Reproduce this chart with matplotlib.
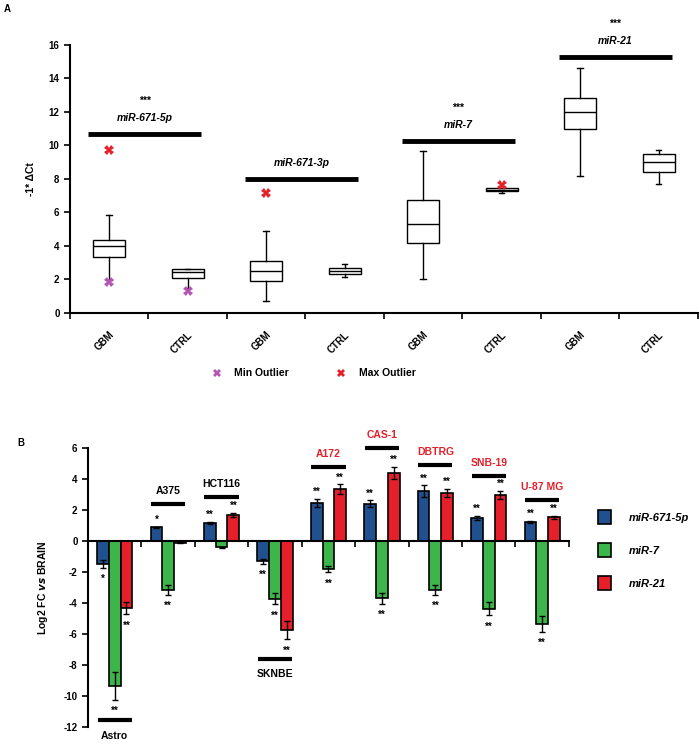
import matplotlib
matplotlib.use("Agg")
import matplotlib.pyplot as plt
import numpy as np
from matplotlib.lines import Line2D
from matplotlib.patches import Patch

plt.rcParams['font.family'] = ['Liberation Sans', 'DejaVu Sans']
plt.rcParams['font.weight'] = 'bold'

# ---------------- Panel A data ----------------
a_labels = ["GBM", "CTRL", "GBM", "CTRL", "GBM", "CTRL", "GBM", "CTRL"]
a_whishi = [5.85, 2.61, 4.92, 2.91, 9.66, 7.43, 14.64, 9.74]
a_q3 = [4.36, 2.61, 3.13, 2.71, 6.73, 7.43, 12.81, 9.48]
a_med = [4.02, 2.45, 2.53, 2.53, 5.32, 7.35, 12.01, 9.00]
a_q1 = [3.32, 2.11, 1.89, 2.35, 4.16, 7.27, 10.96, 8.39]
a_whislo = [1.97, 1.49, 0.70, 2.17, 2.01, 7.17, 8.17, 7.71]
a_min_out = [1.87, 1.31, None, None, None, None, None, None]
a_max_out = [9.70, None, 7.17, None, None, 7.63, None, None]

mirna_a = ["miR-671-5p", "miR-671-3p", "miR-7", "miR-21"]
sig_a_y = [10.7, 8.0, 10.26, 15.3]
stars_a = ["***", "", "***", "***"]
a_yticks = [0, 2, 4, 6, 8, 10, 12, 14, 16]

# ---------------- Panel B data ----------------
cells = ["Astro", "A375", "HCT116", "SKNBE", "A172", "CAS-1", "DBTRG", "SNB-19", "U-87 MG"]
cell_colors = ["black", "black", "black", "black", "#e3202a", "#e3202a", "#e3202a", "#e3202a", "#e3202a"]
series_names = ["miR-671-5p", "miR-7", "miR-21"]
series_colors = ["#21508f", "#3cb54a", "#e5202b"]

mir671_5p = [-1.47, 0.88, 1.16, -1.31, 2.48, 2.41, 3.21, 1.49, 1.23]
mir7 = [-9.33, -3.13, -0.39, -3.73, -1.79, -3.69, -3.15, -4.37, -5.34]
mir21 = [-4.31, -0.10, 1.70, -5.73, 3.36, 4.40, 3.12, 2.97, 1.53]

err671 = [0.25, 0.05, 0.06, 0.15, 0.25, 0.22, 0.38, 0.12, 0.07]
err7 = [0.90, 0.32, 0.03, 0.35, 0.20, 0.35, 0.30, 0.42, 0.50]
err21 = [0.38, 0.02, 0.13, 0.60, 0.30, 0.40, 0.25, 0.25, 0.12]

stars671 = ["*", "*", "**", "**", "**", "**", "**", "**", "**"]
stars7 = ["**", "**", "", "**", "**", "**", "**", "**", "**"]
stars21 = ["**", "", "**", "**", "**", "**", "**", "**", "**"]

sig_b_y = [-11.55, 2.41, 2.84, -7.6, 4.76, 6.01, 4.89, 4.2, 2.63]
b_yticks = [-12, -10, -8, -6, -4, -2, 0, 2, 4, 6]

# ================= Figure =================
fig = plt.figure(figsize=(7.0, 7.47), dpi=100)

# ---------------- Panel A ----------------
axA = fig.add_axes([0.1, 0.581, 0.897, 0.359])
stats = []
for i in range(len(a_labels)):
    stats.append(dict(med=a_med[i], q1=a_q1[i], q3=a_q3[i],
                      whislo=a_whislo[i], whishi=a_whishi[i], fliers=[]))
pos = np.arange(len(a_labels))
axA.bxp(stats, positions=pos, widths=0.41, showfliers=False, patch_artist=True,
        boxprops=dict(facecolor='white', edgecolor='black', linewidth=1.0),
        medianprops=dict(color='black', linewidth=1.0),
        whiskerprops=dict(color='black', linewidth=1.0),
        capprops=dict(color='black', linewidth=1.0), capwidths=0.07)

mx = [p for p, v in zip(pos, a_min_out) if v is not None]
my = [v for v in a_min_out if v is not None]
Mx = [p for p, v in zip(pos, a_max_out) if v is not None]
My = [v for v in a_max_out if v is not None]
axA.plot(mx, my, linestyle='none', marker='X', color='#b455b4', markersize=7,
         markeredgewidth=0, label='Min Outlier', zorder=5)
axA.plot(Mx, My, linestyle='none', marker='X', color='#e5202b', markersize=7,
         markeredgewidth=0, label='Max Outlier', zorder=5)

for k in range(4):
    x0 = 2 * k - 0.27
    x1 = 2 * k + 1.17
    xc = (x0 + x1) / 2
    axA.plot([x0, x1], [sig_a_y[k], sig_a_y[k]], color='black', linewidth=3.5,
             solid_capstyle='butt', clip_on=False)
    axA.text(xc, sig_a_y[k] + 0.95, mirna_a[k], ha='center', va='center',
             fontsize=7.5, style='italic', fontweight='bold', clip_on=False)
    if stars_a[k]:
        axA.text(xc, sig_a_y[k] + 1.95, stars_a[k], ha='center', va='center',
                 fontsize=7.5, fontweight='bold', clip_on=False)

axA.set_xlim(-0.5, 7.5)
axA.set_ylim(0, 16)
axA.set_yticks(a_yticks)
axA.set_yticklabels([str(t) for t in a_yticks], fontsize=7, fontweight='bold')
axA.set_xticks(pos)
axA.set_xticklabels(a_labels, rotation=45, ha='right', rotation_mode='anchor',
                    fontsize=7, fontweight='bold')
axA.tick_params(axis='x', which='major', length=0, pad=12)
axA.set_xticks(np.arange(-0.5, 8.0, 1.0), minor=True)
axA.tick_params(axis='x', which='minor', length=4, width=1.2, direction='out')
axA.tick_params(axis='y', length=4, width=1.2, direction='out')
for s in ['top', 'right']:
    axA.spines[s].set_visible(False)
for s in ['left', 'bottom']:
    axA.spines[s].set_linewidth(1.5)
axA.set_ylabel('-1* \u0394Ct', fontsize=7.5, fontweight='bold', labelpad=9)

h_min = Line2D([], [], linestyle='none', marker='X', color='#b455b4', markersize=6,
               markeredgewidth=0)
h_max = Line2D([], [], linestyle='none', marker='X', color='#e5202b', markersize=6,
               markeredgewidth=0)
fig.legend(handles=[h_min, h_max], labels=['Min Outlier', 'Max Outlier'],
           loc='center', bbox_to_anchor=(0.448, 0.5), ncol=2, frameon=False,
           prop=dict(size=7.5, weight='bold'), columnspacing=4.5,
           handletextpad=1.2, handlelength=1.0)

fig.text(0.006, 0.988, 'A', fontsize=7, fontweight='bold', va='center')

# ---------------- Panel B ----------------
axB = fig.add_axes([0.1257, 0.0268, 0.687, 0.3733])
gx = np.arange(len(cells))
bw = 0.22
offs = [-bw, 0.0, bw]
vals = [mir671_5p, mir7, mir21]
errs = [err671, err7, err21]
stars = [stars671, stars7, stars21]
for j in range(3):
    axB.bar(gx + offs[j], vals[j], width=bw, color=series_colors[j], edgecolor='black',
            linewidth=1.2, yerr=errs[j], capsize=2.5,
            error_kw=dict(elinewidth=1.0, capthick=1.0, ecolor='black'),
            label=series_names[j], zorder=3)
    for i in range(len(cells)):
        if not stars[j][i]:
            continue
        v = vals[j][i]
        e = errs[j][i]
        sgn = 1 if v >= 0 else -1
        axB.text(gx[i] + offs[j], v + sgn * (e + 0.6) - 0.15, stars[j][i],
                 ha='center', va='center', fontsize=7, fontweight='bold')

for i in range(len(cells)):
    y = sig_b_y[i]
    axB.plot([gx[i] - 0.32, gx[i] + 0.32], [y, y], color='black', linewidth=3,
             solid_capstyle='butt', clip_on=False, zorder=4)
    if y < 0:
        ty = y - 1.0
    else:
        ty = y + 0.85
    axB.text(gx[i], ty, cells[i], ha='center', va='center', fontsize=7.5,
             fontweight='bold', color=cell_colors[i], clip_on=False)

axB.set_xlim(-0.5, 8.5)
axB.set_ylim(-12, 6)
axB.set_yticks(b_yticks)
axB.set_yticklabels([str(t) for t in b_yticks], fontsize=7, fontweight='bold')
axB.spines['bottom'].set_position(('data', 0))
axB.set_xticks(np.arange(-0.5, 9.0, 1.0))
axB.set_xticklabels([])
axB.tick_params(axis='x', length=4, width=1.2, direction='out')
axB.tick_params(axis='y', length=4, width=1.2, direction='out')
for s in ['top', 'right']:
    axB.spines[s].set_visible(False)
for s in ['left', 'bottom']:
    axB.spines[s].set_linewidth(1.5)
axB.spines['bottom'].set_zorder(5)
axB.set_ylabel('Log2 FC $\\mathbfit{vs}$ BRAIN', fontsize=7.5, fontweight='bold', labelpad=10)

handles = [Patch(facecolor=c, edgecolor='black', linewidth=1.2) for c in series_colors]
fig.legend(handles=handles, labels=series_names, loc='upper left',
           bbox_to_anchor=(0.84, 0.33), frameon=False,
           prop=dict(size=8, weight='bold', style='italic'),
           labelspacing=1.75, handlelength=1.2, handleheight=1.5, handletextpad=1.6)

fig.text(0.025, 0.407, 'B', fontsize=7, fontweight='bold', va='center')

fig.savefig('out.png', dpi=100)
